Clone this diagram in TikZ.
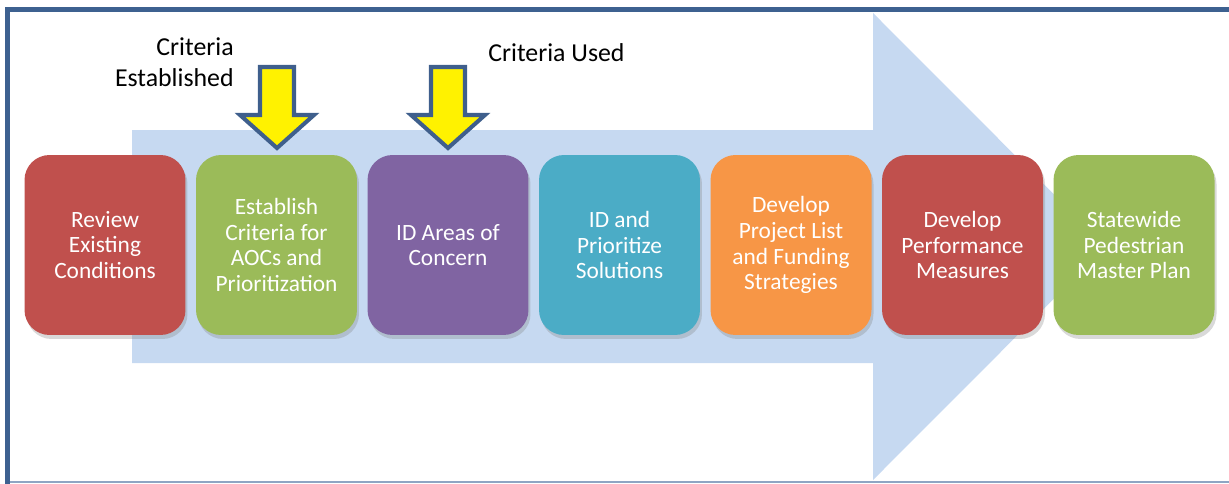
\documentclass[tikz,border=0pt]{standalone}
\usepackage{fontspec}
\setmainfont{Carlito}
\usetikzlibrary{shadows}
\usepackage{xcolor}
\definecolor{frameblue}{HTML}{3D6190}
\definecolor{framegray}{HTML}{8EA5C3}
\definecolor{flowblue}{HTML}{C6D9F1}
\definecolor{stepred}{HTML}{C0504D}
\definecolor{stepgreen}{HTML}{9BBB59}
\definecolor{steppurple}{HTML}{8064A2}
\definecolor{stepteal}{HTML}{4BACC6}
\definecolor{steporange}{HTML}{F79646}
\definecolor{dark}{HTML}{3F5F8C}
\tikzset{
  stepbox/.style={rounded corners=5mm, align=center, text=white, minimum width=3.22cm, minimum height=3.6cm, inner sep=1mm, font=\fontsize{13.3}{14.7}\selectfont, drop shadow={opacity=0.3, shadow xshift=0.4mm, shadow yshift=-0.8mm}},
  redbox/.style={stepbox, fill=stepred},
  greenbox/.style={stepbox, fill=stepgreen},
  purplebox/.style={stepbox, fill=steppurple},
  tealbox/.style={stepbox, fill=stepteal},
  orangebox/.style={stepbox, fill=steporange},
  critnote/.style={inner sep=0pt, text=black, font=\fontsize{14.7}{17.6}\selectfont},
  yarrow/.style={draw=dark, fill=yellow, line width=2.3pt, line join=miter}
}

\begin{document}
\begin{tikzpicture}[x=0.02cm, y=-0.02cm]
  \useasboundingbox (0,0) rectangle (1229,483);
  % frame
  \draw[framegray, line width=0.6pt] (7.5,482) -- (1240,482);
  \draw[frameblue, line width=2.6pt] (7.5,490) -- (7.5,9.5) -- (1240,9.5);
  % big process arrow
  \fill[flowblue] (132,130) -- (873,130) -- (873,13) -- (1106,246.5) -- (873,480) -- (873,363) -- (132,363) -- cycle;
  % steps
  \node[redbox] (review) at (105,245) {Review\\Existing\\Conditions};
  \node[greenbox] (criteria) at (276.5,245) {Establish\\Criteria for\\AOCs and\\Prioritization};
  \node[purplebox] (areas) at (448,245) {ID Areas of\\Concern};
  \node[tealbox] (solutions) at (619.5,245) {ID and\\Prioritize\\Solutions};
  \node[orangebox] (projects) at (791,245) {Develop\\Project List\\and Funding\\Strategies};
  \node[redbox] (measures) at (962.5,245) {Develop\\Performance\\Measures};
  \node[greenbox] (masterplan) at (1134,245) {Statewide\\Pedestrian\\Master Plan};
  % criteria markers
  \draw[yarrow] (260,67) -- (294,67) -- (294,115) -- (314,115) -- (277,148) -- (240,115) -- (260,115) -- cycle;
  \draw[yarrow] (431,67) -- (465,67) -- (465,115) -- (485,115) -- (448,148) -- (411,115) -- (431,115) -- cycle;
  \node[critnote, align=right, anchor=north east] (established) at (234,37) {Criteria\\Established};
  \node[critnote, anchor=base west] (used) at (488,62) {Criteria Used};
\end{tikzpicture}
\end{document}
